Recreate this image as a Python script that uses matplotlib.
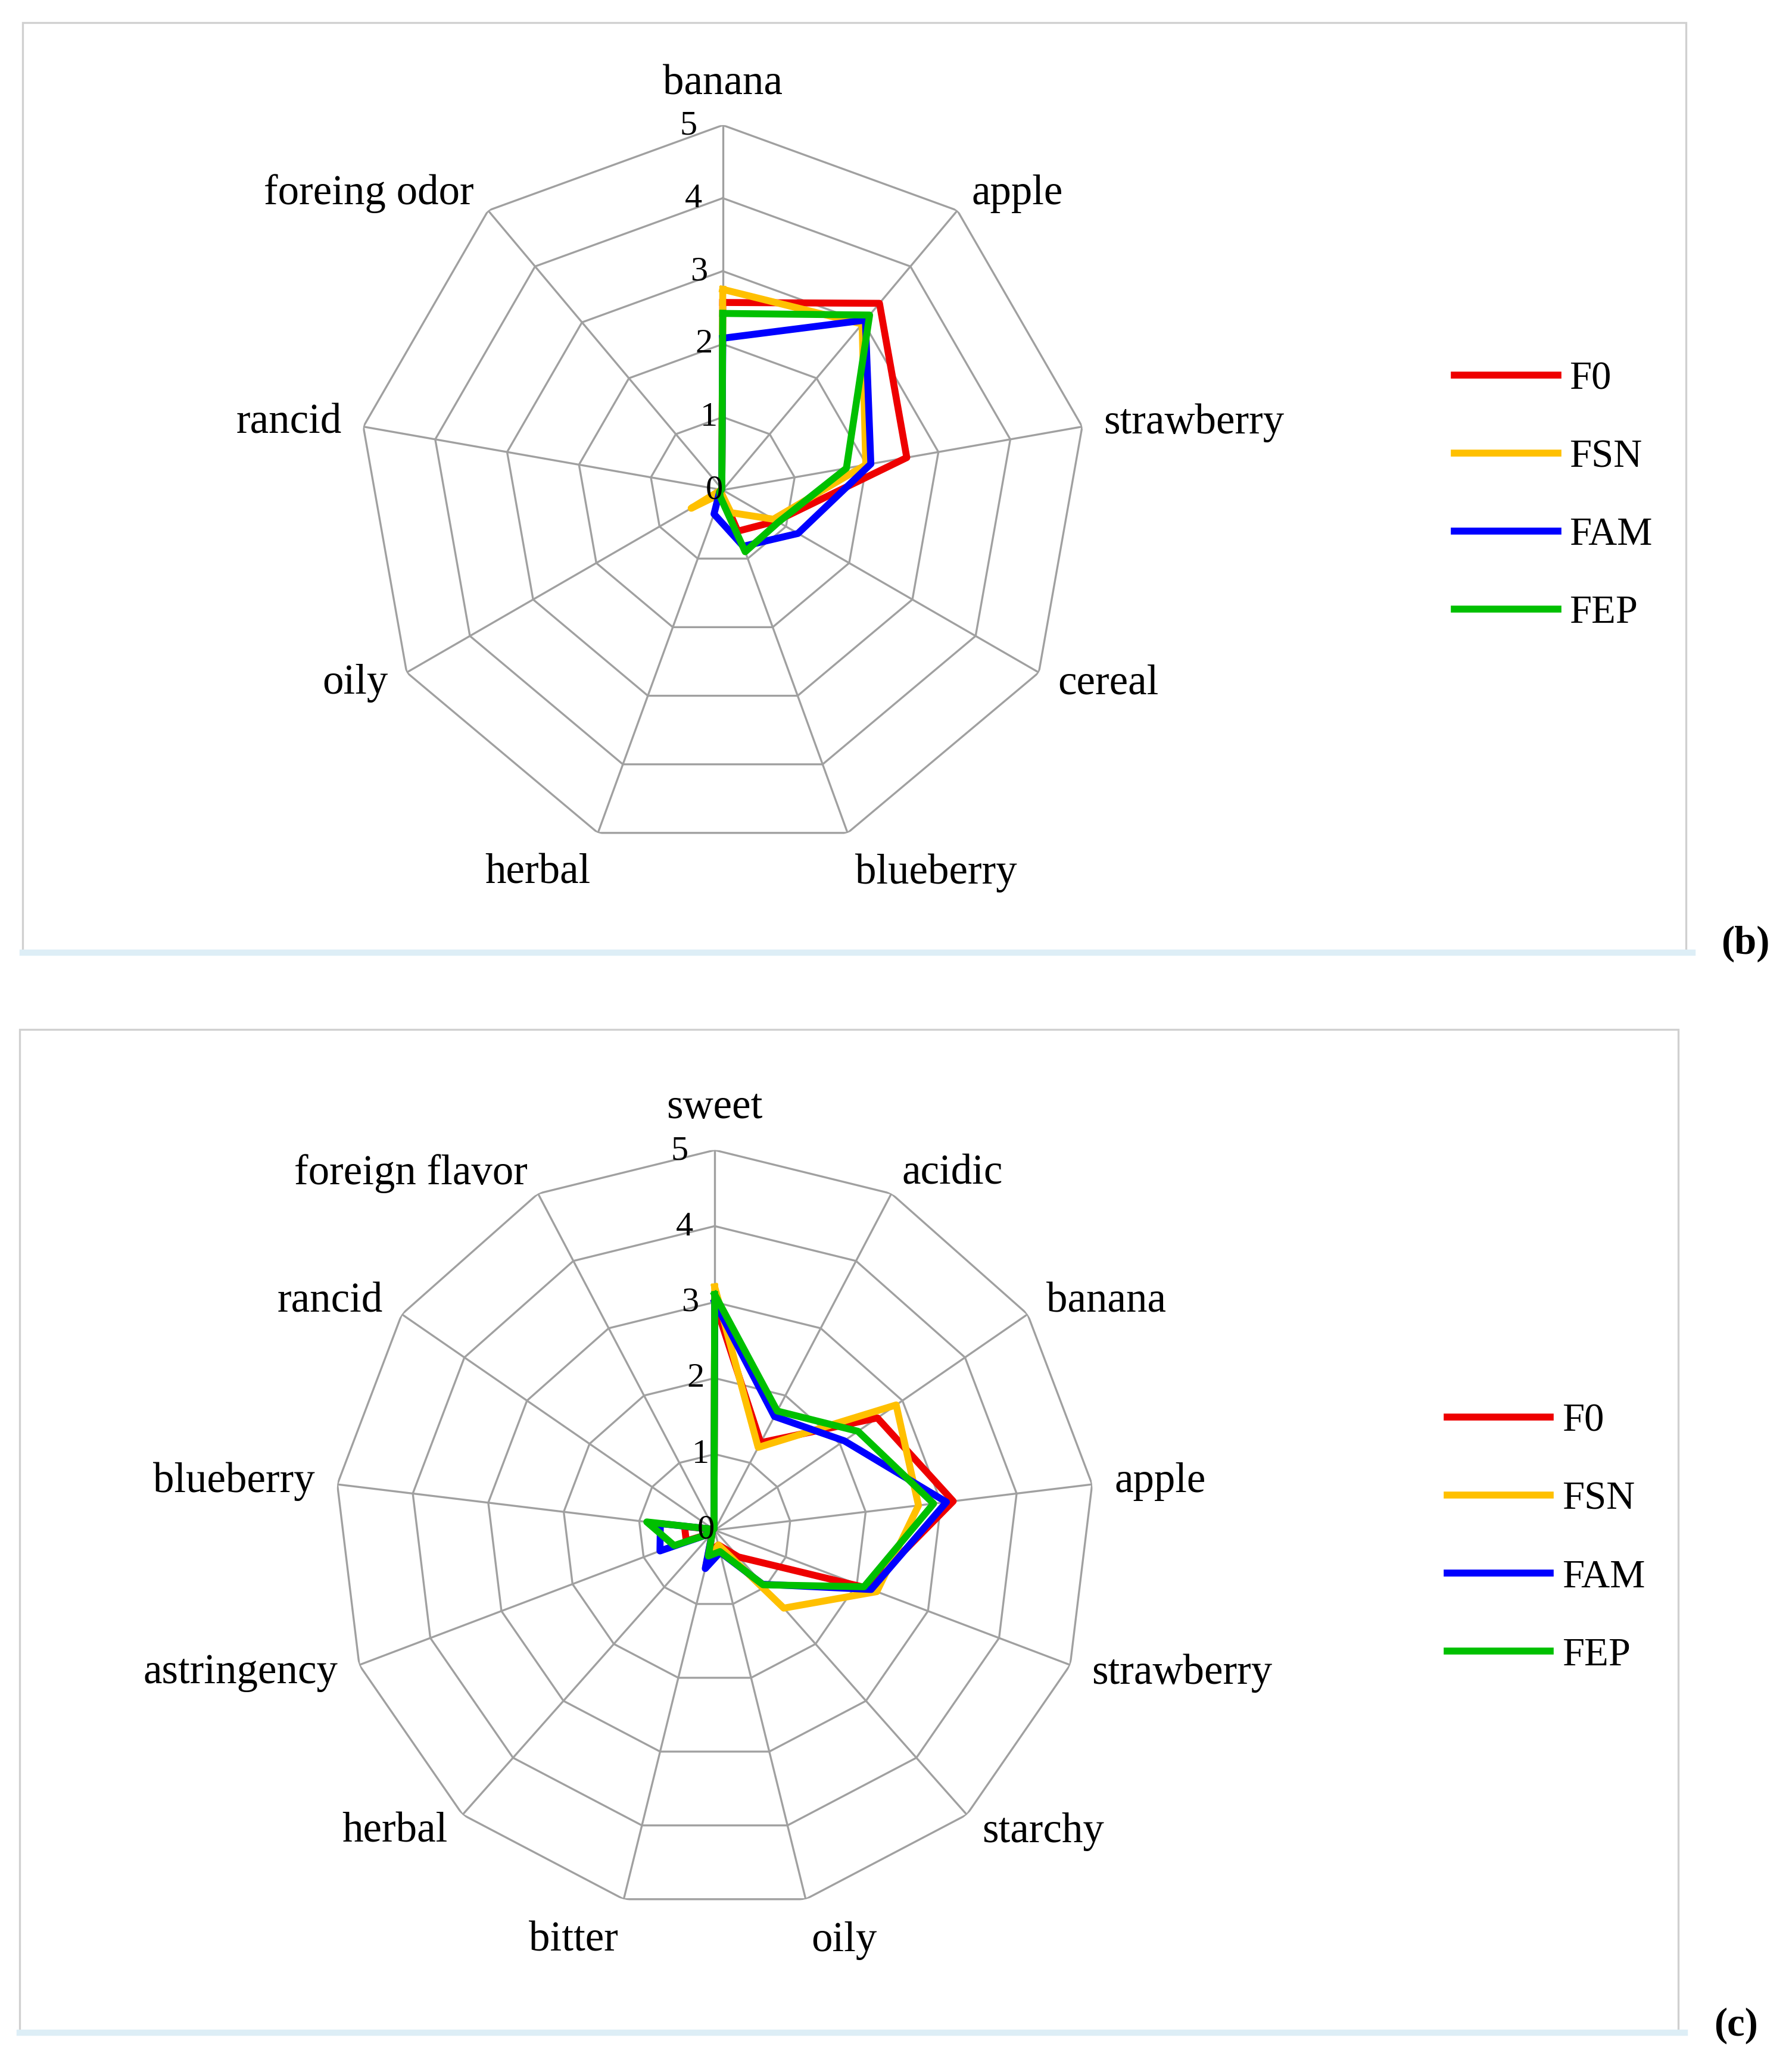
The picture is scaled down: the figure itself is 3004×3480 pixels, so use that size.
import numpy as np
import matplotlib.pyplot as plt
from matplotlib.patches import Rectangle
from matplotlib.lines import Line2D

plt.rcParams['font.family'] = ['Liberation Serif', 'DejaVu Serif']

series = ["F0", "FSN", "FAM", "FEP"]
colors = ["#EE0000", "#FFC000", "#0000FF", "#00C000"]

# panel (b) - odour attributes
cats_b = ["banana", "apple", "strawberry", "cereal", "blueberry", "herbal",
          "oily", "rancid", "foreing odor"]
f0_b = [2.57, 3.34, 2.56, 0.85, 0.60, 0.05, 0.05, 0.02, 0.02]
fsn_b = [2.75, 2.97, 1.99, 0.80, 0.33, 0.05, 0.50, 0.02, 0.02]
fam_b = [2.08, 3.04, 2.06, 1.19, 0.82, 0.35, 0.05, 0.02, 0.02]
fep_b = [2.42, 3.13, 1.72, 0.88, 0.90, 0.10, 0.05, 0.02, 0.02]

# panel (c) - flavour attributes
cats_c = ["sweet", "acidic", "banana", "apple", "strawberry", "starchy", "oily",
          "bitter", "herbal", "astringency", "blueberry", "rancid", "foreign flavor"]
f0_c = [3.00, 1.30, 2.60, 3.16, 2.15, 0.47, 0.20, 0.30, 0.05, 0.40, 0.40, 0.02, 0.02]
fsn_c = [3.20, 1.23, 2.90, 2.70, 2.28, 1.37, 0.20, 0.50, 0.05, 0.05, 0.05, 0.02, 0.02]
fam_c = [3.00, 1.69, 2.07, 3.07, 2.20, 0.95, 0.30, 0.52, 0.05, 0.77, 0.72, 0.02, 0.02]
fep_c = [3.10, 1.77, 2.29, 2.90, 2.10, 0.96, 0.29, 0.35, 0.05, 0.57, 0.90, 0.02, 0.02]

fig = plt.figure(figsize=(3004 / 300, 3480 / 300), dpi=300)


def radar(rect, cats, data, lab_r=5.3):
    ax = fig.add_axes(rect, projection="polar")
    ax.set_theta_zero_location("N")
    ax.set_theta_direction(-1)
    n = len(cats)
    ang = np.linspace(0, 2 * np.pi, n, endpoint=False)
    angc = np.append(ang, ang[0])
    for lv in range(1, 6):
        ax.plot(angc, [lv] * (n + 1), color="#A0A0A0", lw=0.8, zorder=1)
    for a in ang:
        ax.plot([a, a], [0, 5], color="#A0A0A0", lw=0.8, zorder=1)
    for vals, c, name in zip(data, colors, series):
        ax.plot(angc, list(vals) + [vals[0]], color=c, lw=2.8, label=name, zorder=3)
    for lv in range(6):
        ax.text(-0.07, lv, str(lv), ha="right", va="center", fontsize=14)
    for a, c in zip(ang, cats):
        s = np.sin(a)
        ha = "center" if abs(s) < 0.15 else ("left" if s > 0 else "right")
        va = "bottom" if np.cos(a) > 0.9 else ("top" if np.cos(a) < -0.9 else "center")
        ax.text(a, lab_r, c, ha=ha, va=va, fontsize=17)
    ax.set_ylim(0, 5)
    ax.axis("off")
    return ax


ax_b = radar([0.200, 0.587, 0.408, 0.353], cats_b, [f0_b, fsn_b, fam_b, fep_b])
ax_c = radar([0.187, 0.078, 0.425, 0.367], cats_c, [f0_c, fsn_c, fam_c, fep_c])

handles = [Line2D([], [], color=c, lw=2.8) for c in colors]
fig.legend(handles, series, loc="upper left", bbox_to_anchor=(0.793, 0.843),
           frameon=False, fontsize=16, handlelength=2.6, handletextpad=0.3,
           labelspacing=1.05)
fig.legend(handles, series, loc="upper left", bbox_to_anchor=(0.789, 0.340),
           frameon=False, fontsize=16, handlelength=2.6, handletextpad=0.3,
           labelspacing=1.05)

# panel frames
for (x0, y0, x1, y1) in [(17, 17, 1278, 722), (15, 780, 1272, 1540)]:
    fig.add_artist(Rectangle((x0 / 1356, 1 - y1 / 1570), (x1 - x0) / 1356, (y1 - y0) / 1570,
                             transform=fig.transFigure, fill=False, ec="#D0D0D0", lw=0.8))
    fig.add_artist(Line2D([x0 / 1356, (x1 + 5) / 1356], [1 - y1 / 1570] * 2,
                          transform=fig.transFigure, color="#DDEEF6", lw=2.5))

fig.text(1323 / 1356, 1 - 715 / 1570, "(b)", ha="center", va="center", fontsize=16, weight="bold")
fig.text(1316 / 1356, 1 - 1535 / 1570, "(c)", ha="center", va="center", fontsize=16, weight="bold")

fig.savefig("out.png", dpi=300)
